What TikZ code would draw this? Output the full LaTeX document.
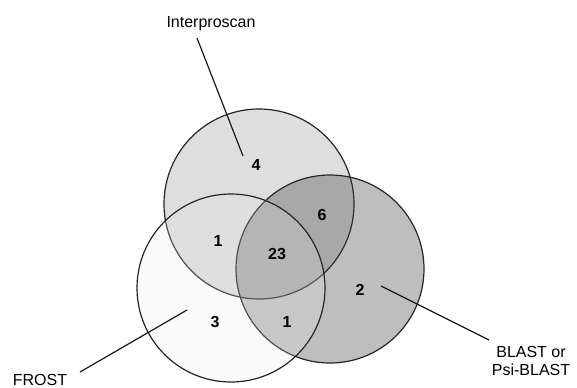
\documentclass[tikz,border=0pt]{standalone}
\usepackage{fontspec}
\setmainfont{Liberation Sans}
\usetikzlibrary{positioning}
\tikzset{font=\fontsize{12}{13.5}\selectfont}
\definecolor{iprgray}{gray}{0.87}
\definecolor{blastgray}{gray}{0.235}
\definecolor{frostgray}{gray}{0.906}
\tikzset{
	setline/.style={draw=black!85, line width=0.9pt},
	count/.style={font=\fontsize{12}{13.5}\selectfont\bfseries, inner sep=0pt},
	tool/.style={align=center, inner sep=0pt},
	pointer/.style={black!90, line width=0.9pt}
}

\begin{document}
\begin{tikzpicture}[x=0.75pt, y=-0.75pt]
	\useasboundingbox (0,0) rectangle (577,387);
	% the three sets
	\fill[iprgray, setline] (259,204) circle [radius=71.25pt];
	\fill[blastgray, fill opacity=0.333, setline] (330,269) circle [radius=70.5pt];
	\fill[frostgray, fill opacity=0.21, setline] (231,288) circle [radius=70.5pt];

	\begin{scope}
		\tikzstyle{every node}=[count]
		\node (only-ipr)  at (256, 165) {4};
		\node (ipr-blast) at (322, 215) {6};
		\node (ipr-frost) at (218, 241) {1};
		\node (all)       at (277, 254) {23};
		\node (only-bl)   at (360, 290) {2};
		\node (only-fr)   at (215, 322) {3};
		\node (fr-blast)  at (287, 322) {1};
	\end{scope}

	\node[tool, anchor=base] (ipro)  at (211, 27) {Interproscan};
	\node[tool] (blast) at (531, 361) {BLAST or\\Psi-BLAST};
	\node[tool, anchor=base] (frost) at (40, 385.5) {FROST};

	\coordinate (ipro-a)  at (197, 38);
	\coordinate (ipro-b)  at (243, 156);
	\coordinate (blast-a) at (489, 340);
	\coordinate (blast-b) at (381, 286);
	\coordinate (frost-a) at (80, 372);
	\coordinate (frost-b) at (187, 310);

	\draw[pointer] (ipro-a) -- (ipro-b);
	\draw[pointer] (blast-a) -- (blast-b);
	\draw[pointer] (frost-a) -- (frost-b);
\end{tikzpicture}
\end{document}
